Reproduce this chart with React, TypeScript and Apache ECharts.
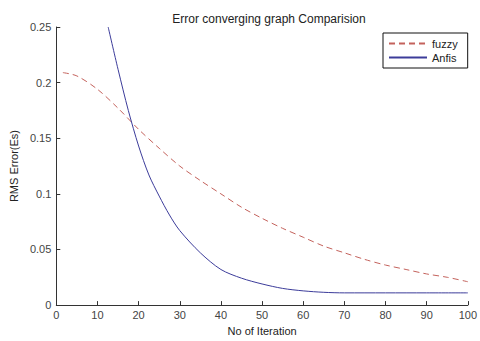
import React, { useEffect, useRef } from "react";
import * as echarts from "echarts";

const fuzzyX = [1.6, 5, 10, 15, 20, 25, 30, 35, 40, 45, 50, 55, 60, 65, 70, 75, 80, 85, 90, 95, 100];
const fuzzyY = [0.209, 0.206, 0.194, 0.177, 0.158, 0.141, 0.125, 0.112, 0.1, 0.088, 0.078, 0.069, 0.061, 0.053, 0.047, 0.041, 0.036, 0.032, 0.028, 0.025, 0.021];
const anfisX = [12.6, 15, 17.5, 20, 22.5, 25, 27.5, 30, 35, 40, 45, 50, 55, 60, 65, 70, 80, 90, 100];
const anfisY = [0.25, 0.212, 0.175, 0.143, 0.117, 0.098, 0.081, 0.067, 0.047, 0.032, 0.0242, 0.019, 0.015, 0.0128, 0.0115, 0.011, 0.011, 0.011, 0.011];
const seriesNames = ["fuzzy", "Anfis"];
const titleText = "Error converging graph Comparision";
const xName = "No of Iteration";
const yName = "RMS Error(Es)";

export default function App() {
  const ref = useRef<HTMLDivElement>(null);
  useEffect(() => {
    if (!ref.current) return;
    const chart = echarts.init(ref.current, undefined, { renderer: "svg" });
    const font = "Liberation Sans, Arial, sans-serif";
    const axisCommon = {
      axisLine: { show: true, lineStyle: { color: "#333", width: 1 } },
      axisTick: { show: true, inside: true, length: 4, lineStyle: { color: "#333" } },
      splitLine: { show: false },
      axisLabel: { color: "#444", fontSize: 11, fontFamily: font },
      nameTextStyle: { color: "#222", fontSize: 11, fontFamily: font },
    };
    chart.setOption({
      animation: false,
      backgroundColor: "#fff",
      title: {
        text: titleText,
        left: 264,
        textAlign: "center",
        top: 8,
        textStyle: { fontSize: 12, fontWeight: "normal", color: "#222", fontFamily: font },
      },
      legend: {
        orient: "vertical",
        left: 383,
        top: 33,
        padding: [5, 10, 5, 5],
        itemGap: 3,
        itemWidth: 38,
        itemHeight: 10,
        backgroundColor: "#fff",
        borderColor: "#111",
        borderWidth: 1,
        align: "left",
        itemStyle: { opacity: 0 },
        textStyle: { fontSize: 11, color: "#222", fontFamily: font },
        data: seriesNames,
      },
      grid: { left: 56, right: 8, top: 27, bottom: 33, containLabel: false },
      xAxis: {
        type: "value",
        min: 0,
        max: 100,
        interval: 10,
        name: xName,
        nameLocation: "middle",
        nameGap: 18,
        ...axisCommon,
        axisLabel: { ...axisCommon.axisLabel, margin: 4 },
      },
      yAxis: {
        type: "value",
        min: 0,
        max: 0.25,
        interval: 0.05,
        name: yName,
        nameLocation: "middle",
        nameGap: 37,
        ...axisCommon,
        axisLabel: { ...axisCommon.axisLabel, margin: 5 },
      },
      series: [
        {
          name: seriesNames[0],
          type: "line",
          smooth: 0.3,
          symbol: "none",
          data: fuzzyX.map((x, i) => [x, fuzzyY[i]]),
          lineStyle: { color: "#c4625c", width: 1, type: [6, 4] },
          itemStyle: { color: "#c4625c" },
        },
        {
          name: seriesNames[1],
          type: "line",
          smooth: 0.3,
          symbol: "none",
          data: anfisX.map((x, i) => [x, anfisY[i]]),
          lineStyle: { color: "#3c3c9a", width: 1 },
          itemStyle: { color: "#3c3c9a" },
        },
      ],
    });
    return () => chart.dispose();
  }, []);
  return (
    <div
      ref={ref}
      style={{ position: "fixed", left: 0, top: 0, width: 480, height: 341, background: "#fff" }}
    />
  );
}
